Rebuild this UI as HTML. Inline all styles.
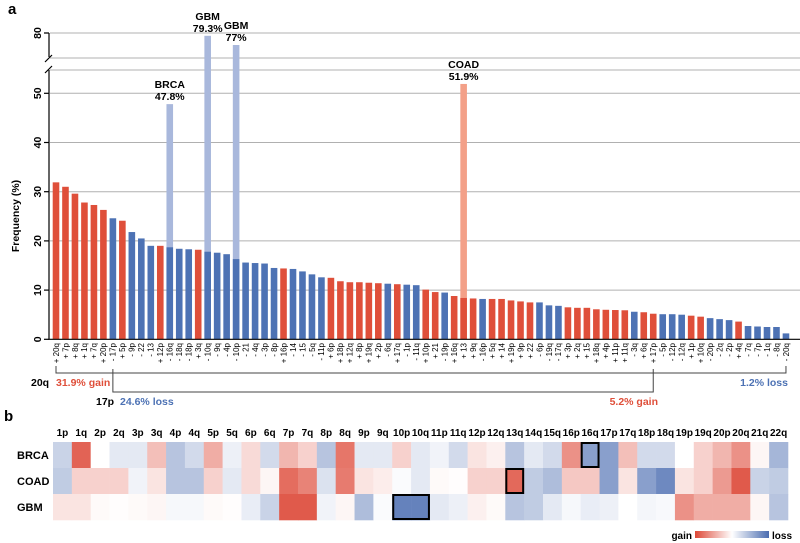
<!DOCTYPE html>
<html><head><meta charset="utf-8"><style>
body{margin:0;background:#fff;}
svg{display:block;font-family:"Liberation Sans",Arial,sans-serif;}
</style></head><body>
<svg id="c" width="800" height="543" viewBox="0 0 800 543"></svg>
<script>
const barLabels=["+ 20q","+ 7p","+ 8q","+ 1q","+ 7q","+ 20p","- 17p","+ 5p","- 9p","- 22","- 13","+ 12p","- 16q","- 18q","- 18p","+ 3q","- 10q","- 9q","- 4p","- 10p","- 21","- 4q","- 3p","- 8p","+ 16p","- 14","- 15","- 5q","- 11p","+ 6p","+ 18p","+ 12q","+ 8p","+ 19q","+ 2p","- 6q","+ 17q","- 1p","- 11q","+ 10p","+ 21","- 19p","+ 16q","+ 13","+ 9q","- 16p","+ 5q","+ 14","+ 19p","+ 9p","+ 22","- 6p","- 19q","- 17q","+ 3p","+ 2q","+ 15","+ 18q","+ 4p","+ 11p","+ 11q","- 3q","+ 6q","+ 17p","- 5p","- 12p","- 12q","+ 1p","+ 10q","- 20p","- 2q","- 2p","+ 4q","- 7q","- 7p","- 1q","- 8q","- 20q"];
const barValues=[31.9,31.0,29.6,27.8,27.3,26.3,24.6,24.1,21.8,20.5,19.0,19.0,18.7,18.4,18.3,18.2,17.8,17.6,17.3,16.3,15.6,15.5,15.4,14.5,14.4,14.3,13.8,13.2,12.6,12.5,11.8,11.6,11.6,11.5,11.4,11.3,11.2,11.1,11.0,10.1,9.6,9.5,8.8,8.4,8.3,8.2,8.2,8.2,7.9,7.7,7.5,7.5,6.9,6.8,6.5,6.4,6.4,6.1,6.0,5.95,5.9,5.6,5.5,5.2,5.1,5.1,5.0,4.8,4.6,4.3,4.1,3.9,3.6,2.7,2.6,2.5,2.5,1.2];
const hlIndex=[12,16,19,43];
const hlValues=[47.8,79.3,77,51.9];
const hlCancer=["BRCA","GBM","GBM","COAD"];
const hlText=["47.8%","79.3%","77%","51.9%"];
const yTicks=[0,10,20,30,40,50];
const hmCols=["1p","1q","2p","2q","3p","3q","4p","4q","5p","5q","6p","6q","7p","7q","8p","8q","9p","9q","10p","10q","11p","11q","12p","12q","13q","14q","15q","16p","16q","17p","17q","18p","18q","19p","19q","20p","20q","21q","22q"];
const hmRows=["BRCA","COAD","GBM"];
const hmBRCA=[-0.3,0.85,0,-0.15,-0.15,0.35,-0.4,-0.25,0.45,-0.1,0.2,-0.25,0.4,0.25,-0.4,0.75,-0.15,-0.15,0.25,-0.15,-0.08,-0.25,0.15,0.08,-0.4,-0.15,-0.25,0.6,-0.65,-0.65,0.35,-0.25,-0.25,0,0.25,0.4,0.6,0.05,-0.5];
const hmCOAD=[-0.35,0.25,0.25,0.25,-0.08,0.15,-0.4,-0.4,0.25,-0.15,0.2,0.05,0.8,0.68,-0.2,0.72,0.15,0.1,-0.03,-0.15,0.03,0.01,0.25,0.25,0.82,-0.35,-0.45,0.3,0.3,-0.65,0.15,-0.65,-0.8,0.15,0.25,0.55,0.9,-0.3,-0.35];
const hmGBM=[0.15,0.15,0.03,0.01,0.03,0.05,-0.05,-0.05,0.03,0.01,-0.12,-0.3,0.9,0.9,-0.08,0.05,-0.45,-0.03,-0.85,-0.85,-0.15,-0.1,0.08,0.03,-0.4,-0.35,-0.15,-0.05,-0.12,-0.1,0,-0.06,-0.04,0.6,0.45,0.45,0.45,0.05,-0.4];

const svg=document.getElementById('c');
const NS='http://www.w3.org/2000/svg';
function mk(t,a,txt){const e=document.createElementNS(NS,t);for(const k in a)e.setAttribute(k,a[k]);if(txt!==undefined)e.textContent=txt;svg.appendChild(e);return e;}
const x0=56,step=9.48,bw=6.6;
const xb=i=>x0+i*step;
const yLow=v=>339.3-v*4.92;
const yUp=v=>33+(80-v)*4;
const yv=v=>v>56?yUp(v):yLow(v);

let e=mk('text',{x:8,y:14,'font-size':15,'font-weight':'bold'},'a');

// gridlines
[33,58,70].concat(yTicks.slice(1).map(yLow)).forEach(y=>{
 const g=mk('line',{x1:50,x2:800,y1:y,y2:y,stroke:'#b0b0b0','stroke-width':1});
 
});
// highlight bars
hlIndex.forEach((bi,k)=>{
 const col=hlCancer[k]==='COAD'?'#f3a088':'#a9b8dc';
 const y=yv(hlValues[k]);
 const r=mk('rect',{x:xb(bi)-bw/2,y:y,width:bw,height:339.3-y,fill:col});
 
 const t1=mk('text',{x:xb(bi),y:y-16,'font-size':10.5,'font-weight':'bold','text-anchor':'middle'},hlCancer[k]);
 
 const t2=mk('text',{x:xb(bi),y:y-4,'font-size':10.5,'font-weight':'bold','text-anchor':'middle'},hlText[k]);
 
});
// bars
barValues.forEach((v,i)=>{
 const gain=barLabels[i][0]==='+';
 const y=yLow(v);
 const r=mk('rect',{x:xb(i)-bw/2,y:y,width:bw,height:339.3-y,fill:gain?'#df4f3a':'#4d72b4'});
 
 const t=mk('text',{transform:`translate(${xb(i)+2.8},343) rotate(-90)`,'font-size':8,'text-anchor':'end'},barLabels[i]);
 
});
// axes
e=mk('path',{d:'M49,33 H44 M49,33 V57 M49,70 V339.3 H800',stroke:'#000',fill:'none','stroke-width':1.2});

e=mk('path',{d:'M45,62 L52,55 M45,73 L52,66',stroke:'#000','stroke-width':1.2});

yTicks.forEach(v=>{
 const y=yLow(v);
 const l=mk('line',{x1:44,x2:49,y1:y,y2:y,stroke:'#000','stroke-width':1.2});
 
 const t=mk('text',{transform:`translate(41,${y}) rotate(-90)`,'font-size':10.5,'font-weight':'bold','text-anchor':'middle'},String(v));
 
});
e=mk('text',{transform:'translate(41,33) rotate(-90)','font-size':10.5,'font-weight':'bold','text-anchor':'middle'},'80');

e=mk('text',{transform:'translate(19,216) rotate(-90)','font-size':10.5,'font-weight':'bold','text-anchor':'middle'},'Frequency (%)');

// brackets
e=mk('path',{d:`M${xb(0)},366 V373 H${xb(77)} V366`,stroke:'#444',fill:'none','stroke-width':1});

e=mk('path',{d:`M${xb(6)},369 V392 H${xb(63)} V369`,stroke:'#444',fill:'none','stroke-width':1});

e=mk('text',{x:31,y:386,'font-size':10.5,'font-weight':'bold'},'20q');

e=mk('text',{x:56,y:386,'font-size':10.5,'font-weight':'bold',fill:'#df4f3a'},'31.9% gain');

e=mk('text',{x:788,y:386,'font-size':10.5,'font-weight':'bold',fill:'#4d72b4','text-anchor':'end'},'1.2% loss');

e=mk('text',{x:96,y:405,'font-size':10.5,'font-weight':'bold'},'17p');

e=mk('text',{x:120,y:405,'font-size':10.5,'font-weight':'bold',fill:'#4d72b4'},'24.6% loss');

e=mk('text',{x:658,y:405,'font-size':10.5,'font-weight':'bold',fill:'#df4f3a','text-anchor':'end'},'5.2% gain');


// heatmap
e=mk('text',{x:4,y:421,'font-size':15,'font-weight':'bold'},'b');

const hx0=53,cw=(788-53)/39,hy0=442,rh=26;
function color(v){const a=Math.min(1,Math.abs(v));const c=v>=0?[221,72,55]:[74,108,176];
 return `rgb(${Math.round(255+(c[0]-255)*a)},${Math.round(255+(c[1]-255)*a)},${Math.round(255+(c[2]-255)*a)})`;}
hmCols.forEach((c,j)=>{
 const t=mk('text',{x:hx0+cw*(j+0.5),y:436,'font-size':10,'font-weight':'bold','text-anchor':'middle'},c);
 
});
[hmBRCA,hmCOAD,hmGBM].forEach((row,r)=>{
 const t=mk('text',{x:17,y:hy0+rh*r+17,'font-size':11,'font-weight':'bold'},hmRows[r]);
 
 row.forEach((v,j)=>{
  const c=mk('rect',{x:hx0+cw*j,y:hy0+rh*r,width:cw+0.3,height:rh+0.3,fill:color(v)});
  
 });
});
[[0,28,1],[1,24,1],[2,18,2]].forEach(b=>{
 const r=mk('rect',{x:hx0+cw*b[1]+1,y:hy0+rh*b[0]+1,width:cw*b[2]-2,height:rh-2,fill:'none',stroke:'#000','stroke-width':2});
 
});
// legend
const defs=mk('defs',{});
defs.innerHTML='<linearGradient id="lg"><stop offset="0" stop-color="#dd4837"/><stop offset="0.5" stop-color="#fff"/><stop offset="1" stop-color="#4a6cb0"/></linearGradient>';
e=mk('text',{x:692,y:539,'font-size':10,'font-weight':'bold','text-anchor':'end'},'gain');

e=mk('rect',{x:695,y:531,width:74,height:7,fill:'url(#lg)'});

e=mk('text',{x:772,y:539,'font-size':10,'font-weight':'bold'},'loss');

</script>
</body></html>
